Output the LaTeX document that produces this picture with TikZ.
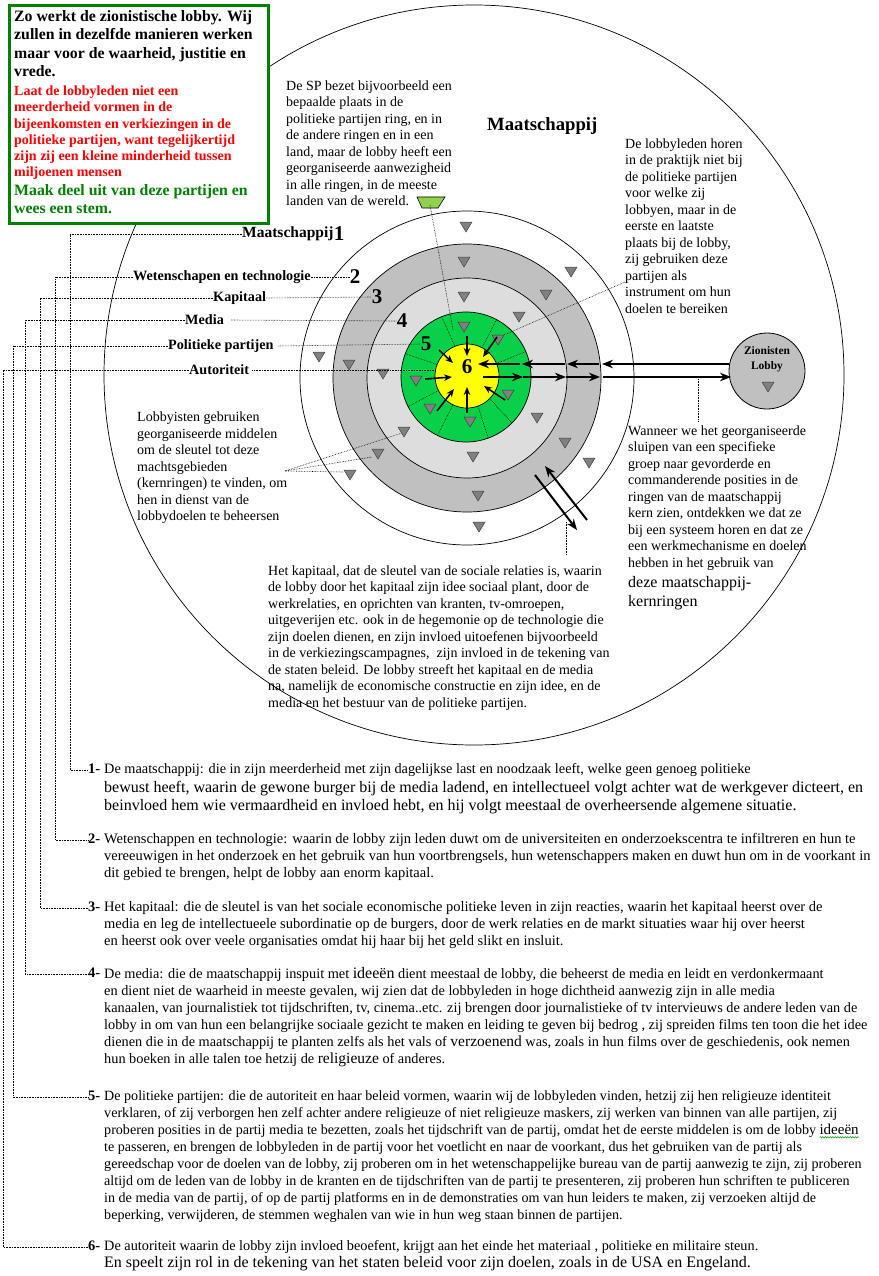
\documentclass[tikz,border=0pt]{standalone}
\usepackage{fontspec}
\setmainfont{Liberation Serif}
\usetikzlibrary{arrows.meta,decorations.pathmorphing}
\definecolor{ringdark}{RGB}{192,192,192}
\definecolor{ringlight}{RGB}{221,221,221}
\definecolor{ringgreen}{RGB}{8,208,72}
\definecolor{ringyellow}{RGB}{255,255,0}
\definecolor{trigray}{RGB}{128,128,128}
\definecolor{boxgreen}{RGB}{0,128,0}
\definecolor{trapgreen}{RGB}{146,208,80}
\definecolor{txtred}{RGB}{255,0,0}
\definecolor{wavegreen}{RGB}{0,160,0}
\newcommand\myfs[2]{\fontsize{#1}{#2}\selectfont}
\newcommand\wavyword[1]{\tikz[baseline=(wv.base)]{\node[anchor=base, inner sep=0pt, outer sep=0pt] (wv) at (0,0) {#1};
  \draw[overlay, wavegreen, line width=0.5pt, decorate, decoration={snake, amplitude=0.7pt, segment length=2.5pt}] ([yshift=-3pt]wv.base west) -- ([yshift=-3pt]wv.base east);}}
\begin{document}
\begin{tikzpicture}[x=1pt,y=-1pt,
  txt/.style={anchor=north west, inner sep=0pt, align=left, font=\myfs{14}{16.5}},
  btxt/.style={anchor=north west, inner sep=0pt, align=left, font=\myfs{14.5}{17}},
  nlab/.style={anchor=north west, inner sep=0pt, font=\bfseries\myfs{14.5}{17}},
  lbl/.style={anchor=west, inner sep=0pt, font=\bfseries\myfs{14.2}{15}},
  num/.style={inner sep=0pt, font=\bfseries\myfs{21}{21}},
  dots/.style={densely dotted, line width=0.6pt},
  bigarrow/.style={line width=2pt, -{Stealth[length=11pt,width=8.5pt]}},
  radarrow/.style={line width=1.6pt, -{Stealth[length=8pt,width=6.5pt]}},
  ringc/.style={circle, draw=black, line width=0.7pt, inner sep=0pt},
  tri/.pic={\draw[fill=trigray, draw=black!75, line width=0.5pt] (-6,-5) -- (6,-5) -- (0,5) -- cycle;}
]
\useasboundingbox (0,0) rectangle (878,1276);

% ---------- circles ----------
\node[ringc, minimum size=740] (society) at (474,375) {};
\node[ringc, fill=white, minimum size=334] (ring2) at (467,378) {};
\node[ringc, fill=ringdark, minimum size=268] (ring3) at (467,378) {};
\node[ringc, fill=ringlight, minimum size=200] (ring4) at (467,378) {};
\node[ringc, fill=ringgreen, minimum size=130] (ring5) at (466,377) {};
\node[ringc, fill=ringyellow, minimum size=64] (ring6) at (467,376) {};

% dotted sectors in the green ring
\foreach \a in {23,62,112,159,207,244,290,315}
  \draw[dots] (ring6.\a) -- (ring5.\a);

% ---------- top-left box ----------
\node[draw=boxgreen, line width=3pt, fill=white, anchor=north west,
      minimum width=259, minimum height=217, inner sep=0pt] (box) at (7.5,4.5) {};
\node[anchor=north west, inner sep=0pt, align=left, font=\bfseries\myfs{15.8}{18.3}] (boxa) at (14,10.5) {Zo werkt de zionistische lobby. Wij\\zullen in dezelfde manieren werken\\maar voor de waarheid, justitie en\\vrede.};
\node[anchor=north west, inner sep=0pt, align=left, text=txtred, font=\bfseries\myfs{14}{16.3}] (boxb) at (14,85.5) {Laat de lobbyleden niet een\\meerderheid vormen in de\\bijeenkomsten en verkiezingen in de\\politieke partijen, want tegelijkertijd\\zijn zij een kleine minderheid tussen\\miljoenen mensen};
\node[anchor=north west, inner sep=0pt, align=left, text=boxgreen, font=\bfseries\myfs{15.8}{17.6}] (boxc) at (14,184.5) {Maak deel uit van deze partijen en\\wees een stem.};

% ---------- callout texts ----------
\node[txt] (sp) at (286,80.2) {De SP bezet bijvoorbeeld een\\bepaalde plaats in de\\politieke partijen ring, en in\\de andere ringen en in een\\land, maar de lobby heeft een\\georganiseerde aanwezigheid\\in alle ringen, in de meeste\\landen van de wereld.};
\draw[fill=trapgreen, line width=0.6pt] (417,197) -- (445,197) -- (438,208) -- (422,208) -- cycle;
\coordinate (trap) at (430,205);
\coordinate (spend) at (453,330);
\draw[dots] (trap) -- (spend);

\node[anchor=west, inner sep=0pt, font=\bfseries\myfs{18.7}{19}] (soc) at (487,126) {Maatschappij};

\node[txt] (lh) at (625,138.5) {De lobbyleden horen\\in de praktijk niet bij\\de politieke partijen\\voor welke zij\\lobbyen, maar in de\\eerste en laatste\\plaats bij de lobby,\\zij gebruiken deze\\partijen als\\instrument om hun\\doelen te bereiken};
\coordinate (lhpt) at (625,282);
\coordinate (lhend) at (497,338);
\draw[dots] (lhpt) -- (lhend);

\node[txt] (wn) at (628,425.2) {Wanneer we het georganiseerde\\sluipen van een specifieke\\groep naar gevorderde en\\commanderende posities in de\\ringen van de maatschappij\\kern zien, ontdekken we dat ze\\bij een systeem horen en dat ze\\een werkmechanisme en doelen\\hebben in het gebruik van};
\node[anchor=north west, inner sep=0pt, align=left, font=\myfs{16}{19.4}] (wn2) at (628,576) {deze maatschappij-\\kernringen};
\coordinate (wna) at (698,379);
\coordinate (wnb) at (698,422);
\draw[dots] (wna) -- (wnb);

\node[txt] (lb) at (137,411.8) {Lobbyisten gebruiken\\georganiseerde middelen\\om de sleutel tot deze\\machtsgebieden\\(kernringen) te vinden, om\\hen in dienst van de\\lobbydoelen te beheersen};
\coordinate (lbpt) at (285,471);
\draw[dots] (lbpt) -- (402,433);
\draw[dots] (lbpt) -- (372,457);
\draw[dots] (lbpt) -- (343,472);

\node[txt] (hk) at (268,565.2) {Het kapitaal, dat de sleutel van de sociale relaties is, waarin\\de lobby door het kapitaal zijn idee sociaal plant, door de\\werkrelaties, en oprichten van kranten, tv-omroepen,\\uitgeverijen etc. ook in de hegemonie op de technologie die\\zijn doelen dienen, en zijn invloed uitoefenen bijvoorbeeld\\in de verkiezingscampagnes,\ \ zijn invloed in de tekening van\\de staten beleid. De lobby streeft het kapitaal en de media\\na, namelijk de economische constructie en zijn idee, en de\\media en het bestuur van de politieke partijen.};
\coordinate (hka) at (566,522);
\coordinate (hkb) at (566,555);
\draw[dots] (hka) -- (hkb);

% ---------- triangles ----------
\foreach \p in {(466,227),(464,262),(571,272),(546,295),(464,297),(519,317),(464,327),(498,340),
  (319,357),(349,365),(383,374),(416,381),(508,395),(430,409),(470,422),(537,418),(404,432),
  (565,443),(473,457),(378,454),(589,463),(350,475),(478,496),(479,527)}
  \pic at \p {tri};

% ---------- lobby ----------
\node[ringc, fill=ringdark, line width=0.8pt, minimum size=76] (lobby) at (767,371) {};
\node[inner sep=0pt, align=center, font=\bfseries\myfs{11.5}{15}] (lobbytxt) at (767,359) {Zionisten\\Lobby};
\pic at (768,387) {tri};

% ---------- horizontal arrows ----------
\coordinate (u0) at (729,364); \coordinate (u1) at (602,364);
\coordinate (u2) at (599,364); \coordinate (u3) at (567,364);
\coordinate (u4) at (565,364); \coordinate (u5) at (522,364);
\coordinate (u6) at (520,364); \coordinate (u7) at (478,364);
\draw[bigarrow] (u0) -- (u1);
\draw[bigarrow] (u2) -- (u3);
\draw[bigarrow] (u4) -- (u5);
\draw[bigarrow] (u6) -- (u7);
\coordinate (l0) at (483,377); \coordinate (l1) at (523,377);
\coordinate (l2) at (566,377); \coordinate (l3) at (600,377);
\coordinate (l4) at (603,377); \coordinate (l5) at (731,377);
\draw[bigarrow] (l0) -- (l1);
\draw[bigarrow] (l1) -- (l2);
\draw[bigarrow] (l2) -- (l3);
\draw[bigarrow] (l4) -- (l5);

% diagonal arrows
\coordinate (da0) at (535,475); \coordinate (da1) at (577,530);
\coordinate (db0) at (587,520); \coordinate (db1) at (545,466);
\draw[bigarrow] (da0) -- (da1);
\draw[bigarrow] (db0) -- (db1);

% radial arrows toward the centre
\draw[radarrow] (467,336) -- (467,356);
\draw[radarrow] (439,350) -- (453,363);
\draw[radarrow] (425,379) -- (452,377);
\draw[radarrow] (437,411) -- (454,389);
\draw[radarrow] (467,413) -- (467,387);
\draw[radarrow] (505,400) -- (484,386);
\draw[radarrow] (497,337) -- (483,357);

% ---------- ring labels ----------
\node[lbl, font=\bfseries\myfs{15.5}{16}] (l1lab) at (242,234) {Maatschappij};
\node[anchor=west, inner sep=0pt, font=\bfseries\myfs{21}{21}] (n1) at (l1lab.east) {1};
\node[lbl] (l2lab) at (133,277) {Wetenschapen en technologie};
\node[num] (n2) at (355,277) {2};
\node[lbl] (l3lab) at (213,298) {Kapitaal};
\node[num] (n3) at (377,297) {3};
\node[lbl] (l4lab) at (185,320) {Media};
\node[num] (n4) at (402,321) {4};
\node[lbl] (l5lab) at (168,346) {Politieke partijen};
\node[num] (n5) at (426,344) {5};
\node[lbl] (l6lab) at (189,370) {Autoriteit};
\node[num] (n6) at (467,367) {6};

% ---------- bottom items ----------
\node[nlab] (i1) at (88,763.3) {1-};
\node[btxt, font=\myfs{14.3}{17}] (t1) at (104,763.3) {De maatschappij: die in zijn meerderheid met zijn dagelijkse last en noodzaak leeft, welke geen genoeg politieke};
\node[anchor=north west, inner sep=0pt, align=left, font=\myfs{16}{18.5}] (t1b) at (104,780.6) {bewust heeft, waarin de gewone burger bij de media ladend, en intellectueel volgt achter wat de werkgever dicteert, en\\beinvloed hem wie vermaardheid en invloed hebt, en hij volgt meestaal de overheersende algemene situatie.};

\node[nlab] (i2) at (88,833.3) {2-};
\node[btxt] (t2) at (104,833.3) {Wetenschappen en technologie: waarin de lobby zijn leden duwt om de universiteiten en onderzoekscentra te infiltreren en hun te\\vereeuwigen in het onderzoek en het gebruik van hun voortbrengsels, hun wetenschappers maken en duwt hun om in de voorkant in\\dit gebied te brengen, helpt de lobby aan enorm kapitaal.};

\node[nlab] (i3) at (88,901.3) {3-};
\node[btxt] (t3) at (104,901.3) {Het kapitaal: die de sleutel is van het sociale economische politieke leven in zijn reacties, waarin het kapitaal heerst over de\\media en leg de intellectueele subordinatie op de burgers, door de werk relaties en de markt situaties waar hij over heerst\\en heerst ook over veele organisaties omdat hij haar bij het geld slikt en insluit.};

\node[nlab] (i4) at (88,967.3) {4-};
\node[btxt, font=\myfs{14.3}{17}] (t4) at (104,967.3) {De media: die de maatschappij inspuit met {\myfs{16}{17}ideeën} dient meestaal de lobby, die beheerst de media en leidt en verdonkermaant\\en dient niet de waarheid in meeste gevalen, wij zien dat de lobbyleden in hoge dichtheid aanwezig zijn in alle media\\kanaalen, van journalistiek tot tijdschriften, tv, cinema..etc. zij brengen door journalistieke of tv intervieuws de andere leden van de\\lobby in om van hun een belangrijke sociaale gezicht te maken en leiding te geven bij bedrog , zij spreiden films ten toon die het idee\\dienen die in de maatschappij te planten zelfs als het vals of {\myfs{15.5}{17}verzoenend} was, zoals in hun films over de geschiedenis, ook nemen\\hun boeken in alle talen toe hetzij de {\myfs{15.5}{17}religieuze} of anderes.};

\node[nlab] (i5) at (88,1090.3) {5-};
\node[btxt, font=\myfs{14.1}{17}] (t5) at (104,1090.3) {De politieke partijen: die de autoriteit en haar beleid vormen, waarin wij de lobbyleden vinden, hetzij zij hen religieuze identiteit\\verklaren, of zij verborgen hen zelf achter andere religieuze of niet religieuze maskers, zij werken van binnen van alle partijen, zij\\proberen posities in de partij media te bezetten, zoals het tijdschrift van de partij, omdat het de eerste middelen is om de lobby \wavyword{\myfs{15}{17}ideeën}\\te passeren, en brengen de lobbyleden in de partij voor het voetlicht en naar de voorkant, dus het gebruiken van de partij als\\gereedschap voor de doelen van de lobby, zij proberen om in het wetenschappelijke bureau van de partij aanwezig te zijn, zij proberen\\altijd om de leden van de lobby in de kranten en de tijdschriften van de partij te presenteren, zij proberen hun schriften te publiceren\\in de media van de partij, of op de partij platforms en in de demonstraties om van hun leiders te maken, zij verzoeken altijd de\\beperking, verwijderen, de stemmen weghalen van wie in hun weg staan binnen de partijen.};

\node[nlab] (i6) at (88,1240.3) {6-};
\node[btxt, font=\myfs{14.3}{17}] (t6) at (104,1240.3) {De autoriteit waarin de lobby zijn invloed beoefent, krijgt aan het einde het materiaal , politieke en militaire steun.};
\node[anchor=north west, inner sep=0pt, font=\myfs{16}{18}] (t6b) at (104,1256.6) {En speelt zijn rol in de tekening van het staten beleid voor zijn doelen, zoals in de USA en Engeland.};

% ---------- dotted leader lines ----------
\coordinate (v1) at (70,234);  \coordinate (w1) at (70,770);
\coordinate (v2) at (55,277);  \coordinate (w2) at (55,840);
\coordinate (v3) at (40,298);  \coordinate (w3) at (40,908);
\coordinate (v4) at (25,320);  \coordinate (w4) at (25,974);
\coordinate (v5) at (13,346);  \coordinate (w5) at (13,1097);
\coordinate (v6) at (3,370);   \coordinate (w6) at (3,1247);
\draw[dots] (l1lab.west) -- (v1) -- (w1) -- (i1.west |- w1);
\draw[dots] (l2lab.west) -- (v2) -- (w2) -- (i2.west |- w2);
\draw[dots] (l3lab.west) -- (v3) -- (w3) -- (i3.west |- w3);
\draw[dots] (l4lab.west) -- (v4) -- (w4) -- (i4.west |- w4);
\draw[dots] (l5lab.west) -- (v5) -- (w5) -- (i5.west |- w5);
\draw[dots] (l6lab.west) -- (v6) -- (w6) -- (i6.west |- w6);
\draw[dots] (l2lab.east) -- (n2.west);
\draw[dots] (l3lab.east) -- (n3.west);
\draw[dots] ([xshift=7pt]l4lab.east) -- (n4.west);
\draw[dots] ([xshift=5pt]l5lab.east) -- (n5.west);
\draw[dots] ([xshift=3pt]l6lab.east) -- (ring6.west |- l6lab.east);
\end{tikzpicture}
\end{document}
